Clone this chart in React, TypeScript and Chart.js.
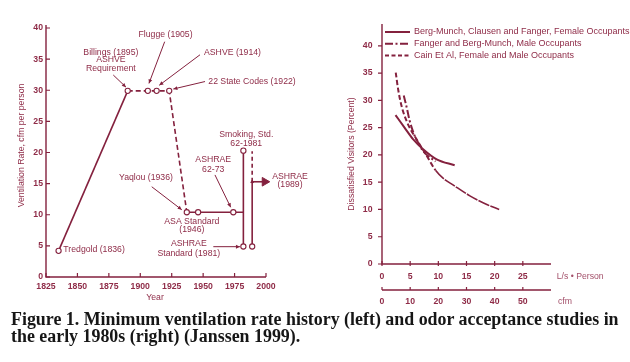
import { useEffect, useRef } from 'react';
import { Chart, registerables } from 'chart.js';

Chart.register(...registerables);

const LINE = '#84213e';
const INK = '#8f2c48';
const SOFT = '#a3506a';
const SANS = '"Liberation Sans", Arial, Helvetica, sans-serif';

// ---------------- Left chart: minimum ventilation rate history ----------------
const yearTicks = [1825, 1850, 1875, 1900, 1925, 1950, 1975, 2000];
const rateTicks = [0, 5, 10, 15, 20, 25, 30, 35, 40];

const earlyRiseYears = [1835, 1890];
const earlyRiseRates = [4.2, 29.9];
const plateauYears = [1890, 1906, 1913, 1923, 1937];
const plateauRates = [29.9, 29.9, 29.9, 29.9, 10.4];
const midYears = [1937, 1946, 1974, 1982];
const midRates = [10.4, 10.4, 10.4, 10.4];
const std1981Years = [1982, 1982];
const std1981Rates = [4.9, 20.3];
const std1989SolidYears = [1989, 1989];
const std1989SolidRates = [4.9, 15.3];
const std1989DashYears = [1989, 1989];
const std1989DashRates = [15.3, 20.2];
const arrow1989Years = [1989, 1999];
const arrow1989Rates = [15.3, 15.3];
const markerYears = [1835, 1890, 1906, 1913, 1923, 1937, 1946, 1974, 1982, 1982, 1989];
const markerRates = [4.2, 29.9, 29.9, 29.9, 29.9, 10.4, 10.4, 10.4, 20.3, 4.9, 4.9];

// [text, year, rate, align]
const leftNotes: [string, number, number, CanvasTextAlign][] = [
  ['Billings (1895)', 1876.6, 36.1, 'center'],
  ['ASHVE', 1876.6, 34.9, 'center'],
  ['Requirement', 1876.6, 33.5, 'center'],
  ['Flugge (1905)', 1920.1, 39.0, 'center'],
  ['ASHVE (1914)', 1950.7, 36.1, 'left'],
  ['22 State Codes (1922)', 1954.1, 31.4, 'left'],
  ['Smoking, Std.', 1984.3, 22.8, 'center'],
  ['62-1981', 1984.3, 21.5, 'center'],
  ['ASHRAE', 1958.0, 18.8, 'center'],
  ['62-73', 1958.0, 17.3, 'center'],
  ['Yaqlou (1936)', 1904.5, 15.9, 'center'],
  ['ASA Standard', 1941.0, 8.9, 'center'],
  ['(1946)', 1941.0, 7.55, 'center'],
  ['ASHRAE', 1938.6, 5.3, 'center'],
  ['Standard (1981)', 1938.6, 3.8, 'center'],
  ['ASHRAE', 2019.1, 16.2, 'center'],
  ['(1989)', 2019.1, 14.8, 'center'],
  ['Tredgold (1836)', 1838.8, 4.4, 'left'],
];

// [fromYear, fromRate, toYear, toRate]
const leftPointers: [number, number, number, number][] = [
  [1878.5, 32.45, 1888.6, 30.5],
  [1919.4, 37.8, 1906.9, 31.1],
  [1947.5, 35.7, 1915.1, 30.8],
  [1951.5, 31.4, 1926.3, 30.2],
  [1959.4, 16.4, 1971.9, 11.2],
  [1909.1, 14.5, 1933.0, 10.8],
  [1958.1, 4.87, 1979.3, 4.87],
];

// ---------------- Right chart: odor acceptance studies ----------------
const lsTicks = [0, 5, 10, 15, 20, 25];
const cfmTicks = [0, 10, 20, 30, 40, 50];
const pctTicks = [0, 5, 10, 15, 20, 25, 30, 35, 40];

const bergLs = [2.4, 4.0, 5.5, 7.3, 9.7, 12.9];
const bergPct = [27.3, 25.0, 22.9, 21.05, 19.2, 18.1];
const fangerLs = [3.86, 4.45, 4.9, 5.8, 6.4, 7.3, 9.5];
const fangerPct = [30.9, 28.4, 26.3, 23.5, 22.3, 20.7, 18.8];
const cainLs = [2.44, 2.85, 3.45, 4.45, 6.1, 7.9, 9.5, 11.0, 12.6, 15.6, 18.6, 20.8];
const cainPct = [35.1, 32.1, 29.05, 26.0, 22.9, 19.9, 17.2, 15.6, 14.5, 12.5, 10.9, 10.0];

const legendLabels = [
  'Berg-Munch, Clausen and Fanger, Female Occupants',
  'Fanger and Berg-Munch, Male Occupants',
  'Cain Et Al, Female and Male Occupants',
];
const legendDashes = [[], [8, 2.5, 2, 2.5], [4, 2.5]];

const pts = (xs: number[], ys: number[]) => xs.map((x, i) => ({ x, y: ys[i] }));

function drawArrow(ctx: CanvasRenderingContext2D, x1: number, y1: number, x2: number, y2: number, head = 4) {
  ctx.beginPath();
  ctx.moveTo(x1, y1);
  ctx.lineTo(x2, y2);
  ctx.stroke();
  const a = Math.atan2(y2 - y1, x2 - x1);
  ctx.beginPath();
  ctx.moveTo(x2, y2);
  ctx.lineTo(x2 - head * Math.cos(a - 0.45), y2 - head * Math.sin(a - 0.45));
  ctx.lineTo(x2 - head * Math.cos(a + 0.45), y2 - head * Math.sin(a + 0.45));
  ctx.closePath();
  ctx.fill();
}

const leftDecor = {
  id: 'leftDecor',
  beforeDatasetsDraw(chart: any) {
    const { ctx, chartArea: a, scales } = chart;
    const x = scales.x;
    const y = scales.y;
    ctx.save();
    ctx.strokeStyle = LINE;
    ctx.lineWidth = 1.4;
    ctx.beginPath();
    ctx.moveTo(a.left, a.top - 3);
    ctx.lineTo(a.left, a.bottom);
    ctx.lineTo(a.right, a.bottom);
    ctx.stroke();
    ctx.lineWidth = 1.2;
    ctx.beginPath();
    for (const v of yearTicks) {
      const px = x.getPixelForValue(v);
      ctx.moveTo(px, a.bottom);
      ctx.lineTo(px, a.bottom - 4);
    }
    for (const v of rateTicks) {
      const py = y.getPixelForValue(v);
      ctx.moveTo(a.left, py);
      ctx.lineTo(a.left + 4, py);
    }
    ctx.stroke();
    ctx.fillStyle = INK;
    ctx.font = `8.7px ${SANS}`;
    ctx.textAlign = 'center';
    ctx.textBaseline = 'middle';
    ctx.fillText('Year', (a.left + a.right) / 2 - 1, a.bottom + 21);
    ctx.translate(22, (a.top + a.bottom) / 2 - 7);
    ctx.rotate(-Math.PI / 2);
    ctx.fillText('Ventilation Rate, cfm per person', 0, 0);
    ctx.restore();
  },
  afterDatasetsDraw(chart: any) {
    const { ctx, scales } = chart;
    const x = scales.x;
    const y = scales.y;
    ctx.save();
    ctx.strokeStyle = LINE;
    ctx.fillStyle = LINE;
    ctx.lineWidth = 1;
    for (const [x1, y1, x2, y2] of leftPointers) {
      drawArrow(ctx, x.getPixelForValue(x1), y.getPixelForValue(y1), x.getPixelForValue(x2), y.getPixelForValue(y2), 4.5);
    }
    ctx.fillStyle = INK;
    ctx.font = `8.7px ${SANS}`;
    ctx.textBaseline = 'middle';
    for (const [t, yr, r, al] of leftNotes) {
      ctx.textAlign = al;
      ctx.fillText(t, x.getPixelForValue(yr), y.getPixelForValue(r));
    }
    ctx.restore();
  },
};

const rightDecor = {
  id: 'rightDecor',
  beforeDatasetsDraw(chart: any) {
    const { ctx, chartArea: a, scales } = chart;
    const x = scales.x;
    const x2 = scales.x2;
    const y = scales.y;
    ctx.save();
    ctx.strokeStyle = LINE;
    ctx.lineWidth = 1.4;
    ctx.beginPath();
    ctx.moveTo(a.left, a.top);
    ctx.lineTo(a.left, a.bottom);
    ctx.lineTo(a.right, a.bottom);
    ctx.moveTo(x2.left, x2.top);
    ctx.lineTo(x2.right, x2.top);
    ctx.stroke();
    ctx.lineWidth = 1.2;
    ctx.beginPath();
    for (const v of pctTicks) {
      const py = y.getPixelForValue(v);
      ctx.moveTo(a.left - 4, py);
      ctx.lineTo(a.left, py);
    }
    for (const v of lsTicks) {
      const px = x.getPixelForValue(v);
      ctx.moveTo(px, a.bottom - 3);
      ctx.lineTo(px, a.bottom + 2);
    }
    for (const v of cfmTicks) {
      const px = x2.getPixelForValue(v);
      ctx.moveTo(px, x2.top - 3);
      ctx.lineTo(px, x2.top);
    }
    ctx.stroke();

    ctx.fillStyle = SOFT;
    ctx.font = `8.7px ${SANS}`;
    ctx.textAlign = 'left';
    ctx.textBaseline = 'middle';
    ctx.fillText('L/s \u2022 Person', a.right + 5.7, x.top + 12.7);
    ctx.fillText('cfm', a.right + 7, x2.top + 11.7);

    ctx.fillStyle = INK;
    ctx.textAlign = 'center';
    ctx.save();
    ctx.translate(31.7, 154);
    ctx.rotate(-Math.PI / 2);
    ctx.fillText('Dissatisfied Visitors (Percent)', 0, 0);
    ctx.restore();

    // legend
    ctx.font = `9px ${SANS}`;
    ctx.textAlign = 'left';
    legendLabels.forEach((lab, i) => {
      const ly = a.top + 8 + i * 11.8;
      ctx.strokeStyle = LINE;
      ctx.lineWidth = 2;
      ctx.setLineDash(legendDashes[i]);
      ctx.beginPath();
      ctx.moveTo(a.left + 3, ly);
      ctx.lineTo(a.left + 28, ly);
      ctx.stroke();
      ctx.setLineDash([]);
      ctx.fillStyle = INK;
      ctx.fillText(lab, a.left + 32, ly);
    });
    ctx.restore();
  },
};

const tickFont = { family: SANS, size: 8.7, weight: 'bold' as const };

function leftConfig(): any {
  const base = { showLine: true, borderColor: LINE, borderWidth: 1.6, pointRadius: 0, clip: false, fill: false };
  return {
    type: 'scatter',
    data: {
      datasets: [
        {
          data: pts(markerYears, markerRates),
          showLine: false,
          pointRadius: 2.6,
          pointBackgroundColor: '#ffffff',
          pointBorderColor: LINE,
          pointBorderWidth: 1.1,
          clip: false,
        },
        { ...base, data: pts(earlyRiseYears, earlyRiseRates) },
        { ...base, data: pts(plateauYears, plateauRates), borderDash: [5, 3] },
        { ...base, data: pts(midYears, midRates) },
        { ...base, data: pts(std1981Years, std1981Rates) },
        { ...base, data: pts(std1989SolidYears, std1989SolidRates) },
        { ...base, data: pts(std1989DashYears, std1989DashRates), borderDash: [4, 3] },
        {
          ...base,
          data: pts(arrow1989Years, arrow1989Rates),
          pointRadius: [1.6, 5],
          pointStyle: 'triangle',
          rotation: [0, 90],
          pointBackgroundColor: LINE,
          pointBorderColor: LINE,
          pointBorderWidth: 1,
        },
      ],
    },
    options: {
      animation: false,
      responsive: false,
      devicePixelRatio: 1,
      layout: { padding: { top: 28, right: 54, left: 0, bottom: 0 } },
      plugins: { legend: { display: false }, tooltip: { enabled: false } },
      scales: {
        x: {
          type: 'linear',
          min: 1825,
          max: 2000,
          grid: { display: false, drawTicks: false },
          border: { display: false },
          afterBuildTicks: (s: any) => {
            s.ticks = yearTicks.map((v) => ({ value: v }));
          },
          afterFit: (s: any) => {
            s.height = 33;
          },
          ticks: { font: tickFont, color: INK, padding: 4.5, maxRotation: 0, autoSkip: false, callback: (v: any) => String(v) },
        },
        y: {
          type: 'linear',
          min: 0,
          max: 40,
          grid: { display: false, drawTicks: false },
          border: { display: false },
          afterBuildTicks: (s: any) => {
            s.ticks = rateTicks.map((v) => ({ value: v }));
          },
          afterFit: (s: any) => {
            s.width = 46;
          },
          ticks: { font: tickFont, color: INK, padding: 3, autoSkip: false, callback: (v: any) => String(v) },
        },
      },
    },
    plugins: [leftDecor],
  };
}

function rightConfig(): any {
  const base = {
    showLine: true,
    borderColor: LINE,
    borderWidth: 2,
    pointRadius: 0,
    clip: false,
    fill: false,
    cubicInterpolationMode: 'monotone',
    tension: 0.4,
  };
  return {
    type: 'scatter',
    data: {
      datasets: [
        { ...base, data: pts(bergLs, bergPct) },
        { ...base, data: pts(fangerLs, fangerPct), borderDash: [8, 2.5, 2, 2.5] },
        {
          ...base,
          data: pts(cainLs, cainPct),
          segment: {
            borderDash: (c: any) => (c.p0.parsed.x < 8 ? [5, 2.5] : [12, 1.2]),
            borderWidth: (c: any) => (c.p0.parsed.x < 8 ? 2 : 1.6),
          },
        },
      ],
    },
    options: {
      animation: false,
      responsive: false,
      devicePixelRatio: 1,
      layout: { padding: { top: 24, right: 79, left: 0, bottom: 0 } },
      plugins: { legend: { display: false }, tooltip: { enabled: false } },
      scales: {
        x: {
          type: 'linear',
          position: 'bottom',
          weight: 0,
          min: 0,
          max: 30,
          grid: { display: false, drawTicks: false },
          border: { display: false },
          afterBuildTicks: (s: any) => {
            s.ticks = lsTicks.map((v) => ({ value: v }));
          },
          afterFit: (s: any) => {
            s.height = 26;
          },
          ticks: { font: tickFont, color: INK, padding: 7.8, maxRotation: 0, autoSkip: false, callback: (v: any) => String(v) },
        },
        x2: {
          type: 'linear',
          position: 'bottom',
          weight: 1,
          min: 0,
          max: 60,
          grid: { display: false, drawTicks: false },
          border: { display: false },
          afterBuildTicks: (s: any) => {
            s.ticks = cfmTicks.map((v) => ({ value: v }));
          },
          afterFit: (s: any) => {
            s.height = 20;
          },
          ticks: { font: tickFont, color: INK, padding: 6.5, maxRotation: 0, autoSkip: false, callback: (v: any) => String(v) },
        },
        y: {
          type: 'linear',
          min: 0,
          max: 44,
          grid: { display: false, drawTicks: false },
          border: { display: false },
          afterBuildTicks: (s: any) => {
            s.ticks = pctTicks.map((v) => ({ value: v }));
          },
          afterFit: (s: any) => {
            s.width = 62;
          },
          ticks: { font: tickFont, color: INK, padding: 9.5, autoSkip: false, callback: (v: any) => String(v) },
        },
      },
    },
    plugins: [rightDecor],
  };
}

export default function App() {
  const leftRef = useRef<HTMLCanvasElement>(null);
  const rightRef = useRef<HTMLCanvasElement>(null);
  useEffect(() => {
    const l = new Chart(leftRef.current as HTMLCanvasElement, leftConfig());
    const r = new Chart(rightRef.current as HTMLCanvasElement, rightConfig());
    return () => {
      l.destroy();
      r.destroy();
    };
  }, []);
  return (
    <div style={{ position: 'absolute', left: 0, top: 0, width: 630, height: 362, background: '#ffffff', overflow: 'hidden' }}>
      <canvas ref={leftRef} width={320} height={310} style={{ position: 'absolute', left: 0, top: 0, width: 320, height: 310 }} />
      <canvas ref={rightRef} width={310} height={310} style={{ position: 'absolute', left: 320, top: 0, width: 310, height: 310 }} />
      <div
        style={{
          position: 'absolute',
          left: 11,
          top: 311,
          fontFamily: '"Liberation Serif", "Times New Roman", serif',
          fontWeight: 'bold',
          fontSize: 17.9,
          lineHeight: '17px',
          color: '#161616',
          whiteSpace: 'nowrap',
        }}
      >
        <div>Figure 1. Minimum ventilation rate history (left) and odor acceptance studies in</div>
        <div>the early 1980s (right) (Janssen 1999).</div>
      </div>
    </div>
  );
}
